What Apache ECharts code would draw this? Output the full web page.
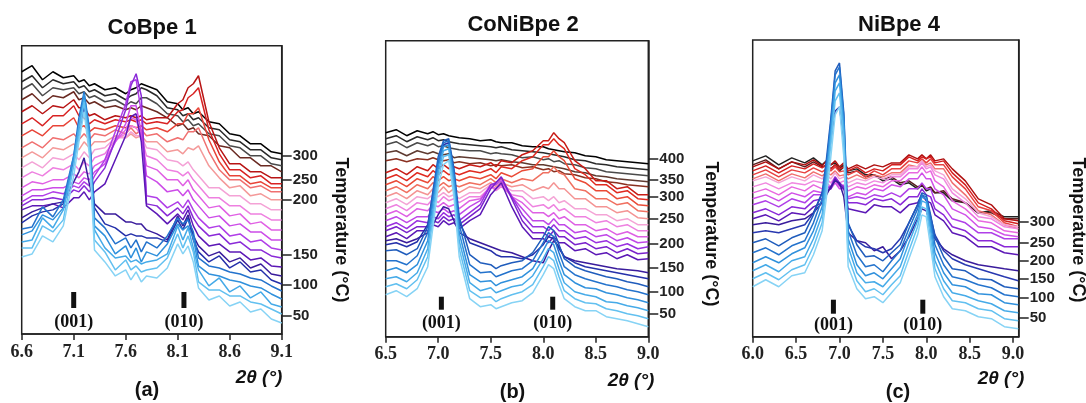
<!DOCTYPE html>
<html><head><meta charset="utf-8">
<script src="https://cdn.jsdelivr.net/npm/echarts@6/dist/echarts.min.js"></script>
<style>html,body{margin:0;padding:0;background:#fff}#c{width:1086px;height:403px}</style>
</head><body><div id="c"></div>
<script>
// ---------- Panel (a) CoBpe 1 ----------
const xA = [6.6,6.7,6.8,6.9,7.0,7.1,7.15,7.2, 7.25,7.3,7.4,7.5,7.6,7.65,7.7,7.75, 7.8,7.9,8.0,8.1,8.15,8.2,8.25,8.3, 8.4,8.5,8.6,8.7,8.8,8.9,9.0,9.1];
const a01 = [77,80,98,92,108,158,192,222, 180,84,72,58,64,54,62,52, 58,56,66,90,80,88,72,46, 34,38,28,32,22,25,15,11];
const a02 = [86,86,108,102,114,168,198,232, 188,94,82,64,74,64,68,62, 64,66,76,100,86,98,82,52, 44,44,38,38,32,30,25,20];
const a03 = [92,94,116,106,124,170,208,234, 194,104,86,76,78,72,74,70, 72,74,80,108,94,106,86,64, 48,56,42,48,36,42,30,27];
const a04 = [99,103,119,114,126,178,208,240, 202,108,98,80,88,76,86,72, 82,78,90,110,104,108,96,68, 60,58,54,52,48,46,40,35];
const a05 = [105,107,127,117,134,178,216,242, 206,116,106,90,96,86,94,82, 92,86,98,116,110,114,102,76, 68,66,62,60,56,54,48,43];
const a06 = [111,118,122,124,130,172,198,228, 196,126,110,106,98,100,98,98, 96,96,92,114,104,116,94,82, 72,78,66,72,62,64,54,50];
const a07 = [116,122,126,130,132,152,162,176, 150,130,120,120,112,112,110,110, 104,100,94,118,108,119,98,88, 78,82,72,76,66,70,60,58];
const a08 = [124,128,128,130,126,136,136,142, 134,142,150,174,198,217,220,192, 128,120,110,120,114,124,108,98, 88,90,82,82,74,76,68,67];
const a09 = [128,134,134,136,134,144,142,148, 142,152,166,194,224,248,260,238, 130,128,118,126,120,128,116,108, 98,100,90,92,84,84,78,76];
const a10 = [132,138,138,142,140,148,146,152, 148,158,174,202,230,252,254,222, 138,136,126,132,126,134,124,116, 106,108,98,100,92,94,86,84];
const a11 = [138,144,144,146,146,152,150,156, 154,162,170,192,210,228,228,202, 158,152,142,144,138,144,134,128, 116,118,108,110,102,102,94,94];
const a12 = [146,152,150,154,154,160,156,162, 160,168,174,192,204,216,214,198, 168,164,154,154,148,154,144,138, 126,128,118,120,110,112,104,104];
const a13 = [156,162,158,166,164,170,164,172, 168,176,180,194,200,208,206,198, 178,174,164,162,158,162,154,148, 136,136,128,128,120,120,114,114];
const a14 = [166,172,166,176,174,180,174,182, 176,184,186,196,196,202,198,198, 186,184,174,172,168,172,164,158, 146,146,138,138,130,130,124,124];
const a15 = [176,182,176,186,184,190,184,192, 186,192,192,198,196,200,196,198, 192,192,182,184,180,186,184,188, 168,156,146,148,138,140,134,134];
const a16 = [186,192,186,196,194,200,194,200, 194,200,198,204,200,206,200,204, 198,200,192,196,194,202,202,206, 182,164,154,154,146,148,142,142];
const a17 = [198,204,198,208,208,216,206,208, 202,206,204,208,206,208,206,208, 204,206,202,210,210,220,220,226, 194,172,158,158,150,152,146,146];
const a18 = [210,216,208,218,218,228,218,216, 210,214,210,214,212,214,212,214, 210,212,210,222,224,236,240,246, 204,180,164,164,156,158,150,150];
const a19 = [222,228,220,228,226,234,226,226, 218,220,214,218,216,218,216,218, 214,216,216,230,234,246,250,258, 212,186,170,170,162,162,156,156];
const a20 = [234,240,230,238,236,242,234,236, 230,232,226,228,224,226,224,228, 226,222,216,208,210,204,206,200, 198,188,186,176,176,168,168,162];
const a21 = [244,250,238,246,244,246,240,242, 236,238,232,234,228,232,230,236, 236,230,220,218,212,214,208,210, 200,198,188,186,178,178,170,168];
const a22 = [252,258,246,254,250,252,246,248, 242,244,238,240,234,238,240,246, 244,238,226,224,218,220,214,216, 206,204,194,192,184,184,176,174];
const a23 = [262,268,254,262,256,258,252,254, 248,250,244,246,240,244,246,250, 248,244,232,230,224,226,220,222, 212,210,200,198,190,190,182,180];
const curvesA = [a01,a02,a03,a04,a05,a06,a07,a08,a09,a10,a11,a12,a13,a14,a15,a16,a17,a18,a19,a20,a21,a22,a23];
const xTicksA = [6.6,7.1,7.6,8.1,8.6,9.1];
const xTickLabelsA = ['6.6','7.1','7.6','8.1','8.6','9.1'];
const tempPosA = [18,49,79,134,154,178];
const tempLabelsA = ['50','100','150','200','250','300'];
const peaksA = [7.10, 8.16];

// ---------- Panel (b) CoNiBpe 2 ----------
const xB = [6.5,6.6,6.7,6.8,6.9,6.95,7.0,7.05, 7.1,7.15,7.2,7.3,7.4,7.5,7.55,7.6, 7.7,7.8,7.9,8.0,8.05,8.1,8.15,8.2, 8.3,8.4,8.5,8.6,8.7,8.8,8.9,9.0];
const b01 = [42,46,40,48,70,110,150,172, 176,140,80,38,30,32,28,30, 34,36,44,62,72,68,52,38, 30,26,26,20,18,16,13,10];
const b02 = [50,53,48,57,80,118,158,180, 182,146,88,46,39,40,35,38, 42,45,52,70,80,76,60,46, 38,34,33,28,26,23,21,18];
const b03 = [58,60,55,64,88,126,164,186, 188,152,96,54,46,49,44,46, 50,52,61,78,88,84,68,54, 45,42,40,35,34,31,29,26];
const b04 = [66,69,64,72,96,134,170,190, 192,158,104,62,55,56,51,54, 57,60,68,86,96,92,76,62, 54,49,48,44,42,39,37,34];
const b05 = [76,76,72,81,104,140,176,194, 196,164,112,72,64,65,60,62, 66,68,76,94,104,100,84,70, 62,58,55,52,50,47,45,42];
const b06 = [86,87,82,88,110,146,180,196, 198,168,120,82,74,72,68,71, 74,76,84,100,110,106,92,78, 70,66,63,60,58,55,53,50];
const b07 = [92,94,90,95,112,142,174,192, 194,160,114,94,90,86,82,80, 80,78,82,92,100,98,88,80, 74,70,68,66,64,62,60,58];
const b08 = [96,98,94,98,104,112,122,130, 128,116,104,98,94,90,88,86, 84,80,76,74,86,96,90,80, 76,74,72,70,68,67,66,64];
const b09 = [100,104,98,106,106,112,110,116, 112,114,108,116,122,142,148,154, 130,110,98,98,94,100,94,94, 86,88,82,84,78,82,77,78];
const b10 = [106,110,104,110,110,116,114,120, 116,118,112,120,128,148,154,160, 138,116,104,104,100,106,100,100, 92,94,88,90,84,88,83,84];
const b11 = [110,114,108,116,114,120,118,124, 120,122,116,124,132,152,154,159, 140,122,110,110,106,112,106,106, 98,100,94,96,90,93,88,90];
const b12 = [116,120,114,120,120,126,124,128, 124,126,122,130,136,152,152,156, 140,128,116,116,112,118,112,112, 104,106,100,102,96,99,94,95];
const b13 = [122,126,120,128,126,132,130,134, 130,132,128,136,138,150,148,152, 140,134,124,124,120,124,118,120, 112,112,106,108,102,105,100,100];
const b14 = [128,132,126,134,132,138,134,140, 136,138,134,140,140,150,146,150, 142,140,130,132,128,132,126,128, 120,120,114,116,110,112,106,106];
const b15 = [134,138,132,140,138,142,140,144, 140,142,138,144,144,152,148,152, 146,146,138,140,136,140,134,136, 128,128,122,122,116,118,112,112];
const b16 = [140,144,138,146,142,148,144,150, 144,148,144,150,148,154,150,154, 150,152,146,150,148,154,148,148, 138,138,130,130,124,126,119,118];
const b17 = [146,150,144,152,148,154,150,154, 150,152,150,154,152,158,154,158, 154,158,156,164,164,170,164,162, 148,146,138,138,132,134,126,125];
const b18 = [152,156,150,158,154,160,156,160, 156,158,156,160,158,162,158,164, 160,166,168,180,180,186,180,176, 158,154,146,146,138,140,132,131];
const b19 = [158,162,156,164,160,166,162,166, 162,164,162,166,164,168,164,170, 168,176,180,192,192,198,192,188, 168,162,152,152,144,146,138,137];
const b20 = [164,168,162,170,166,172,168,172, 168,170,168,172,170,174,170,176, 174,182,186,196,196,204,198,194, 176,168,156,156,148,150,142,142];
const b21 = [176,178,175,178,177,179,177,176, 177,174,175,173,174,171,172,171, 172,169,170,167,168,165,166,163, 162,159,158,155,154,152,151,150];
const b22 = [184,186,181,186,183,185,183,182, 183,179,180,179,178,177,176,177, 175,174,172,172,171,170,169,168, 165,164,161,160,158,157,156,155];
const b23 = [192,195,189,194,191,193,190,191, 189,188,187,186,186,183,184,183, 182,179,180,177,178,175,176,173, 172,169,168,165,164,163,162,161];
const b24 = [198,201,195,200,197,199,196,197, 195,194,193,192,191,190,189,190, 187,186,185,184,183,182,181,180, 177,176,173,172,170,169,168,167];
const b25 = [204,207,201,206,203,205,202,203, 201,200,199,198,196,197,195,194, 194,191,190,190,188,187,186,185, 184,181,180,177,176,175,174,173];
const curvesB = [b01,b02,b03,b04,b05,b06,b07,b08,b09,b10,b11,b12,b13,b14,b15,b16,b17,b18,b19,b20,b21,b22,b23,b24,b25];
const xTicksB = [6.5,7.0,7.5,8.0,8.5,9.0];
const xTickLabelsB = ['6.5','7.0','7.5','8.0','8.5','9.0'];
const tempPosB = [23,45,69,93,118,140,157,178];
const tempLabelsB = ['50','100','150','200','250','300','350','400'];
const peaksB = [7.03, 8.09];

// ---------- Panel (c) NiBpe 4 ----------
const xC = [6.0,6.15,6.3,6.45,6.6,6.7,6.8,6.85, 6.9,6.95,7.0,7.05,7.1,7.2,7.3,7.4, 7.5,7.6,7.7,7.8,7.9,7.95,8.0,8.05, 8.1,8.2,8.3,8.45,8.6,8.75,8.9,9.06];
const c01 = [50,57,50,61,64,82,106,140, 180,222,230,180,70,48,38,40, 34,44,54,78,102,122,120,90, 60,40,28,26,20,18,10,8];
const c02 = [58,64,57,67,72,90,114,150, 192,236,244,196,80,56,45,48, 42,52,61,86,110,130,128,98, 68,48,36,34,28,26,18,16];
const c03 = [66,72,65,76,80,98,122,158, 200,246,254,206,90,64,54,55, 50,60,70,94,116,136,134,106, 76,56,44,41,36,33,26,24];
const c04 = [74,80,74,83,89,106,130,166, 208,254,262,214,98,72,61,64, 58,68,78,102,122,140,138,112, 84,64,52,50,43,42,34,32];
const c05 = [84,89,82,91,96,114,138,172, 214,262,270,220,106,82,70,72, 65,76,86,108,128,142,140,118, 92,72,60,57,52,49,42,40];
const c06 = [94,98,91,99,104,122,144,178, 218,266,274,224,114,92,80,81, 76,84,92,114,132,144,142,122, 100,80,68,66,58,57,50,48];
const c07 = [104,106,104,108,112,124,144,166, 196,226,230,196,112,96,90,88, 84,88,98,114,132,140,138,120, 102,86,78,72,68,64,60,56];
const c08 = [112,114,112,116,118,124,134,142, 150,156,154,140,104,96,94,86, 90,78,86,100,118,128,126,112, 98,88,82,76,72,70,68,66];
const c09 = [118,122,116,124,122,130,134,146, 148,158,152,148,128,126,124,132, 130,130,124,132,134,142,136,134, 122,116,104,100,90,90,84,82];
const c10 = [124,128,122,130,128,136,138,148, 150,160,154,150,134,134,132,138, 136,138,132,140,140,148,142,140, 128,122,110,106,96,96,90,90];
const c11 = [132,136,130,138,134,142,142,150, 150,158,152,150,138,140,138,142, 140,144,140,148,148,154,148,148, 136,130,118,114,104,104,98,98];
const c12 = [138,142,136,144,140,146,144,150, 148,154,148,148,140,144,142,148, 146,152,150,158,158,164,158,158, 148,142,128,122,110,108,102,100];
const c13 = [144,148,142,150,146,152,148,154, 150,156,150,152,146,150,148,152, 150,156,156,164,164,170,164,166, 156,150,136,128,116,114,106,104];
const c14 = [150,154,148,154,152,156,154,158, 154,160,154,156,150,154,152,156, 154,160,160,168,168,174,168,170, 162,158,144,134,120,118,110,108];
const c15 = [156,160,154,160,156,162,158,162, 158,164,158,160,154,158,156,160, 158,162,162,170,170,176,170,172, 166,162,148,138,124,120,112,110];
const c16 = [158,163,156,163,159,165,161,164, 162,166,161,162,158,162,158,162, 160,164,164,172,170,176,172,174, 168,168,154,142,126,122,112,108];
const c17 = [162,167,160,167,164,169,165,168, 166,170,165,166,162,166,160,166, 162,168,168,176,174,178,174,178, 172,172,160,148,130,126,114,110];
const c18 = [166,171,164,171,168,173,169,172, 168,172,168,170,166,170,164,168, 166,172,172,180,176,180,178,180, 174,176,164,152,134,128,116,113];
const c19 = [170,175,168,175,172,177,171,176, 172,176,170,174,168,172,168,172, 170,174,174,182,178,182,178,182, 176,178,168,156,138,132,118,116];
const c20 = [172,177,168,175,170,175,170,172, 168,172,166,170,164,166,160,162, 158,160,154,156,150,152,148,150, 144,146,138,134,124,124,118,118];
const c21 = [176,181,172,179,174,179,172,176, 172,174,168,172,166,168,162,162, 156,158,152,154,148,152,146,148, 144,144,136,134,124,126,120,120];
const curvesC = [c01,c02,c03,c04,c05,c06,c07,c08,c09,c10,c11,c12,c13,c14,c15,c16,c17,c18,c19,c20,c21];
const xTicksC = [6.0,6.5,7.0,7.5,8.0,8.5,9.0];
const xTickLabelsC = ['6.0','6.5','7.0','7.5','8.0','8.5','9.0'];
const tempPosC = [19,39,58,76,94,115];
const tempLabelsC = ['50','100','150','200','250','300'];
const peaksC = [6.93, 7.96];

const peakLabels = ['(001)','(010)'];

// ---------- styles (kept apart from data) ----------
const blues = ['#86d3f5','#62c0f0','#45aae8','#2f90dc','#2372cc','#1f5cbc'];
const colorsA = blues.slice(0,5).concat(['#2530aa','#3a1c9c','#5c18b6','#8a2ad8','#b03ee8','#cc4ce8','#e060e4','#ee80e0','#f4a2d6','#f49a9a','#f07070','#e84438','#d82222','#b81414','#6a2a22','#4a4a4a','#2a2a2a','#000000']);
const colorsB = blues.concat(['#2530aa','#3a1c9c','#5c18b6','#7a22cc','#9a30e0','#c048e8','#de60e4','#ee82e0','#f4a4d6','#f49494','#f07060','#ea4a36','#e02a20','#c81c16','#8a3020','#5e3a30','#4a4a4a','#2a2a2a','#000000']);
const colorsC = blues.concat(['#2838b0','#3a1c9c','#5c18b6','#8a28d8','#b040e8','#d050e8','#e868e0','#f088e0','#f4a4d8','#f07070','#e84040','#d42020','#b01010','#5a2020','#222222']);

const panels = [
  {xs:xA, curves:curvesA, colors:colorsA, xmin:6.6, xmax:9.1, ymax:288, ticks:xTicksA, tickLabels:xTickLabelsA, tpos:tempPosA, tlab:tempLabelsA, peaks:peaksA, off:[-42,-26,-12],
   grid:{left:21.7, top:45.7, width:260, height:288.3}},
  {xs:xB, curves:curvesB, colors:colorsB, xmin:6.5, xmax:9.0, ymax:296, ticks:xTicksB, tickLabels:xTickLabelsB, tpos:tempPosB, tlab:tempLabelsB, peaks:peaksB, off:[-40,-27,-13],
   grid:{left:385.7, top:40.7, width:262.6, height:296}},
  {xs:xC, curves:curvesC, colors:colorsC, xmin:6.0, xmax:9.065, ymax:297, ticks:xTicksC, tickLabels:xTickLabelsC, tpos:tempPosC, tlab:tempLabelsC, peaks:peaksC, off:[-37,-23,-11],
   grid:{left:752.7, top:40, width:266, height:296.7}}
];

function lookup(vals, labels, v){
  let best=0, d=1e9;
  vals.forEach((t,i)=>{const e=Math.abs(t-v); if(e<d){d=e;best=i;}});
  return labels[best];
}

const grids=[], xAxes=[], yAxes=[], series=[];
const bad=[];
panels.forEach((p,pi)=>{
  grids.push(Object.assign({show:true, borderColor:'#222', borderWidth:1.5, containLabel:false}, p.grid));
  xAxes.push({type:'value', gridIndex:pi, min:p.xmin, max:p.xmax,
    axisLine:{show:true, onZero:false, lineStyle:{color:'#222', width:1.5}},
    axisTick:{show:true, inside:false, length:6, customValues:p.ticks, lineStyle:{color:'#222', width:1.5}},
    axisLabel:{show:true, customValues:p.ticks, margin:9, color:'#222', fontFamily:'Liberation Serif', fontWeight:'bold', fontSize:18,
      formatter:(v)=>lookup(p.ticks,p.tickLabels,v)},
    splitLine:{show:false}});
  yAxes.push({type:'value', gridIndex:pi, position:'right', min:0, max:p.ymax,
    axisLine:{show:true, onZero:false, lineStyle:{color:'#222', width:1.5}},
    axisTick:{show:true, inside:false, length:10, customValues:p.tpos, lineStyle:{color:'#222', width:1.5}},
    axisLabel:{show:true, customValues:p.tpos, margin:11, color:'#222', fontFamily:'Liberation Sans', fontWeight:'bold', fontSize:15,
      formatter:(v)=>lookup(p.tpos,p.tlab,v)},
    splitLine:{show:false}});
  for(let i=p.curves.length-1;i>=0;i--){
    const ys=p.curves[i];
    if(ys.length!==p.xs.length) bad.push('p'+pi+'c'+(i+1)+':'+ys.length);
    series.push({type:'line', xAxisIndex:pi, yAxisIndex:pi, symbol:'none', silent:true, animation:false,
      data:p.xs.map((x,j)=>[x, ys[j]]),
      lineStyle:{width:1.5, color:p.colors[i]}, itemStyle:{color:p.colors[i]}});
  }
  series.push({type:'custom', xAxisIndex:pi, yAxisIndex:pi, silent:true, z:10,
    data:p.peaks.map(x=>[x,0]),
    renderItem:(params, api)=>{
      const pt=api.coord([api.value(0), 0]);
      const o=p.off;
      return {type:'group', children:[
        {type:'rect', shape:{x:pt[0]-2.5, y:pt[1]+o[0], width:5, height:o[1]-o[0]}, style:{fill:'#111'}},
        {type:'text', x:pt[0], y:pt[1]+o[2], style:{text:peakLabels[params.dataIndex], fill:'#111',
          font:'bold 18px "Liberation Serif"', align:'center', verticalAlign:'middle'}}
      ]};
    }});
});

const T=(text,x,y,font,rot)=>({type:'text', x:x, y:y, rotation:rot||0, silent:true, z:20,
  style:{text:text, font:font, fill:'#111', align:'center', verticalAlign:'middle'}});
const titleF='bold 22px "Liberation Sans"', thF='italic bold 19px "Liberation Sans"', capF='bold 20px "Liberation Sans"', tempF='bold 18px "Liberation Sans"';
const graphic=[
  T('CoBpe 1',152,28,titleF), T('CoNiBpe 2',523,25,titleF), T('NiBpe 4',899,24.5,titleF),
  T('2θ (°)',259,378,thF), T('2θ (°)',631,381,thF), T('2θ (°)',1001,379,thF),
  T('(a)',147,390.5,capF), T('(b)',512.5,392.5,capF), T('(c)',898,392.5,capF),
  T('Temperature (°C)',340.5,230,tempF,-Math.PI/2), T('Temperature (°C)',710.5,234,tempF,-Math.PI/2), T('Temperature (°C)',1077.5,230,tempF,-Math.PI/2)
];
if(bad.length) graphic.push(T('LEN '+bad.join(' '),540,200,'bold 14px sans-serif'));

const chart=echarts.init(document.getElementById('c'), null, {renderer:'canvas'});
chart.setOption({animation:false, backgroundColor:'#fff', grid:grids, xAxis:xAxes, yAxis:yAxes, series:series, graphic:graphic});
</script>
</body></html>
